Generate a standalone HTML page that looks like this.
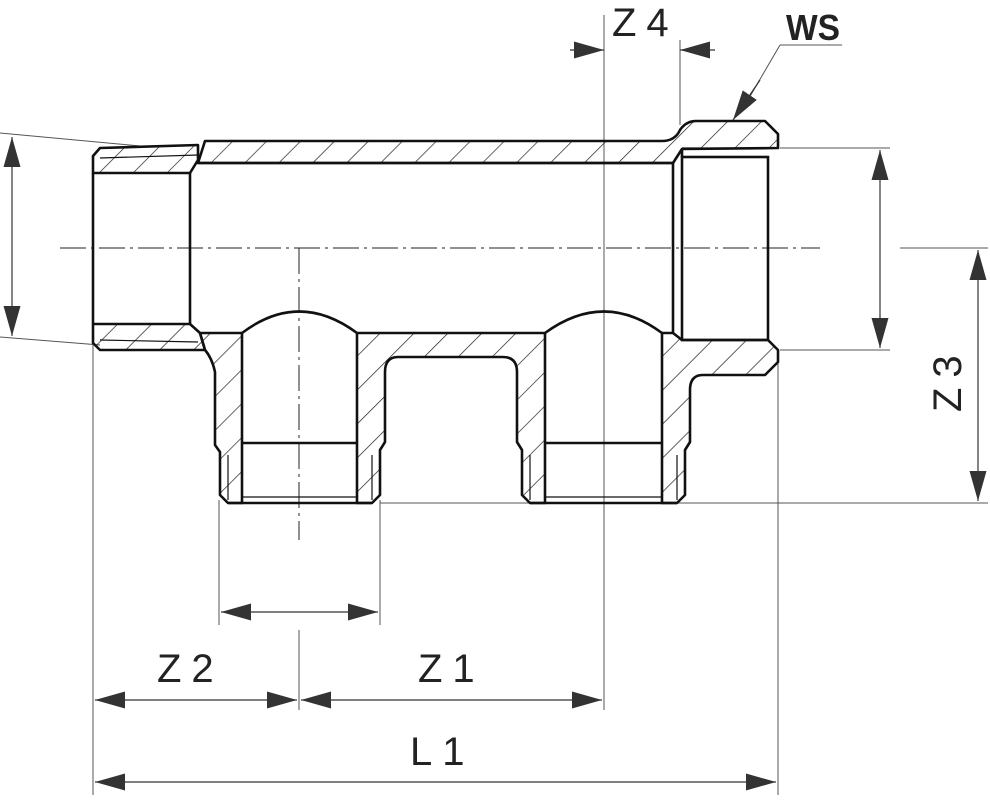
<!DOCTYPE html>
<html><head><style>body{margin:0;background:#fff}svg{display:block}text{font-family:"Liberation Sans",sans-serif;fill:#222}</style></head><body>
<svg width="990" height="800" viewBox="0 0 990 800" xmlns="http://www.w3.org/2000/svg">
<defs>
<pattern id="h" width="24" height="24" patternUnits="userSpaceOnUse" patternTransform="rotate(45)">
<line x1="0" y1="0" x2="0" y2="24" stroke="#222" stroke-width="1.4"/>
</pattern>
<marker id="a" viewBox="0 0 10 10" refX="10" refY="5" markerWidth="30" markerHeight="17" markerUnits="userSpaceOnUse" orient="auto-start-reverse" preserveAspectRatio="none"><path d="M0,0L10,5L0,10z" fill="#333"/></marker>
</defs>
<g stroke="#555" stroke-width="1" fill="none">
<line x1="93" y1="345" x2="93" y2="795"/><line x1="778" y1="360" x2="778" y2="795"/>
<line x1="219" y1="500" x2="219" y2="625"/><line x1="380" y1="500" x2="380" y2="625"/>
<line x1="380" y1="503" x2="988" y2="503"/>
<line x1="780" y1="148" x2="890" y2="148"/><line x1="780" y1="350" x2="890" y2="350"/>
<line x1="900" y1="248" x2="988" y2="248"/>
<line x1="0" y1="133" x2="140" y2="146"/><line x1="0" y1="337" x2="100" y2="345"/>
<line x1="604" y1="15" x2="604" y2="710"/><line x1="680" y1="40" x2="680" y2="125"/>
<line x1="299" y1="630" x2="299" y2="710"/>
<line x1="780" y1="45" x2="842" y2="45"/><line x1="780" y1="45" x2="745" y2="105"/>
</g>
<g stroke="#333" stroke-width="1.2" fill="none">
<line x1="12" y1="137" x2="12" y2="336" marker-start="url(#a)" marker-end="url(#a)"/>
<line x1="880" y1="150" x2="880" y2="348" marker-start="url(#a)" marker-end="url(#a)"/>
<line x1="978" y1="250" x2="978" y2="501" marker-start="url(#a)" marker-end="url(#a)"/>
<line x1="221" y1="612" x2="378" y2="612" marker-start="url(#a)" marker-end="url(#a)"/>
<line x1="95" y1="700" x2="297" y2="700" marker-start="url(#a)" marker-end="url(#a)"/>
<line x1="301" y1="700" x2="602" y2="700" marker-start="url(#a)" marker-end="url(#a)"/>
<line x1="95" y1="782" x2="776" y2="782" marker-start="url(#a)" marker-end="url(#a)"/>
<line x1="570" y1="50" x2="604" y2="50" marker-end="url(#a)"/>
<line x1="715" y1="50" x2="680" y2="50" marker-end="url(#a)"/>
<line x1="760" y1="80" x2="733" y2="120" marker-end="url(#a)"/>
</g>
<g stroke="#222" stroke-width="1" fill="none" stroke-dasharray="26,5,3,5">
<line x1="60" y1="248" x2="820" y2="248"/>
<line x1="299" y1="248" x2="299" y2="540"/>
</g>
<g fill="url(#h)" stroke="#111" stroke-width="2.6" stroke-linejoin="round">
<path d="M198,163 L205,141 L662,141 Q675,141 680,130 Q686,121 696,121 L765,121 L778,134 L778,148 L682,149 L673,163 Z"/>
<path d="M93,156 L100,148 L198,145 L198,160 L190,173 L93,173 Z"/>
<path d="M93,324 L190,324 L200,333 L205,350 L100,350 L93,343 Z"/>
<path d="M200,333 L242,333 L242,503 L228,503 L220,495 L220,452 L215,445 L215,372 Q212,358 205,350 Z"/>
<path d="M357,333 L545,333 L545,503 L530,503 L522,495 L522,450 L517,442 L517,372 Q517,357 503,357 L398,357 Q385,357 385,372 L385,442 L380,450 L380,495 L372,503 L357,503 Z"/>
<path d="M662,333 L673,333 L682,340 L768,340 L778,350 L778,362 L765,375 L703,375 Q690,375 690,390 L690,442 L685,450 L685,495 L677,503 L662,503 Z"/>
</g>
<g stroke="#111" stroke-width="2.6" fill="none">
<line x1="93" y1="173" x2="93" y2="324"/>
<line x1="190" y1="173" x2="190" y2="324"/>
<line x1="198" y1="163" x2="673" y2="163"/>
<path d="M242,333 Q299,290 357,333"/>
<path d="M545,333 Q604,290 662,333"/>
<line x1="242" y1="443" x2="357" y2="443"/><line x1="545" y1="443" x2="662" y2="443"/>
<line x1="228" y1="503" x2="372" y2="503"/><line x1="530" y1="503" x2="677" y2="503"/>
<line x1="673" y1="163" x2="673" y2="333"/>
<rect x="682" y="157" width="86" height="183"/>
<line x1="682" y1="149" x2="682" y2="157"/>
</g>
<g stroke="#111" stroke-width="1.2">
<line x1="100" y1="158" x2="198" y2="155"/><line x1="100" y1="340" x2="198" y2="342"/>
<line x1="228" y1="455" x2="228" y2="500"/><line x1="372" y1="455" x2="372" y2="500"/>
<line x1="530" y1="455" x2="530" y2="500"/><line x1="677" y1="455" x2="677" y2="500"/>
<line x1="682" y1="148" x2="778" y2="148"/>
<line x1="242" y1="497" x2="357" y2="497"/><line x1="545" y1="497" x2="662" y2="497"/>
</g>
<g font-size="40" letter-spacing="10">
<text x="612" y="36">Z4</text>
<text x="157" y="682">Z2</text>
<text x="418" y="682">Z1</text>
<text x="410" y="765">L1</text>
<text transform="translate(961,412) rotate(-90)">Z3</text>
</g>
<text x="786" y="40" font-size="36" font-weight="bold" textLength="54" lengthAdjust="spacingAndGlyphs">WS</text>
</svg>
</body></html>
